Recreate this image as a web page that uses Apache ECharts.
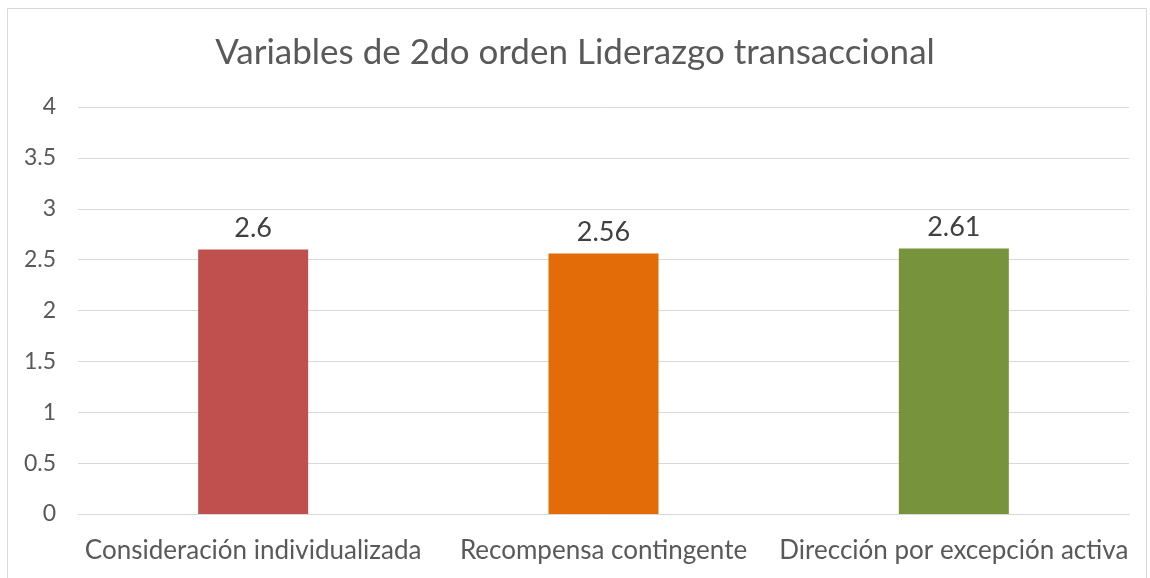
<!DOCTYPE html>
<html>
<head>
<meta charset="utf-8">
<script src="https://cdn.jsdelivr.net/npm/echarts@6/dist/echarts.min.js"></script>
<style>
  html, body { margin: 0; padding: 0; background: #fff; }
  #chart { width: 1150px; height: 578px; }
</style>
</head>
<body>
<div id="chart"></div>
<script>
const title = 'Variables de 2do orden Liderazgo transaccional'
const categories = ['Consideración individualizada', 'Recompensa contingente', 'Dirección por excepción activa']
const values = [2.6, 2.56, 2.61]
const barColors = ['#C0504D', '#E36C09', '#77933C']

const chart = echarts.init(document.getElementById('chart'))

const option = {
  animation: false,
  textStyle: { fontFamily: 'Lato, "Open Sans", sans-serif' },
  title: {
    text: title,
    left: 'center',
    top: 30,
    textStyle: { fontSize: 35, fontWeight: 'normal', color: '#595959' },
  },
  graphic: [
    {
      type: 'rect',
      shape: { x: 7.5, y: 8.5, width: 1139, height: 580 },
      style: { fill: 'none', stroke: '#d9d9d9', lineWidth: 1 },
      silent: true,
    },
  ],
  grid: { left: 78, right: 21, top: 107, bottom: 64 },
  xAxis: {
    type: 'category',
    data: categories,
    axisLine: { show: true, lineStyle: { color: '#d9d9d9', width: 1 } },
    axisTick: { show: false },
    axisLabel: { fontSize: 26, color: '#595959', margin: 24, interval: 0 },
  },
  yAxis: {
    type: 'value',
    min: 0,
    max: 4,
    interval: 0.5,
    axisLine: { show: false },
    axisTick: { show: false },
    splitLine: { lineStyle: { color: '#d9d9d9', width: 1 } },
    axisLabel: { fontSize: 23, color: '#595959', margin: 22 },
  },
  series: [
    {
      type: 'bar',
      barWidth: 110,
      data: values.map((v, i) => ({ value: v, itemStyle: { color: barColors[i] } })),
      label: {
        show: true,
        position: 'top',
        distance: 8,
        fontSize: 27,
        color: '#404040',
      },
    },
  ],
}
chart.setOption(option)
</script>
</body>
</html>
